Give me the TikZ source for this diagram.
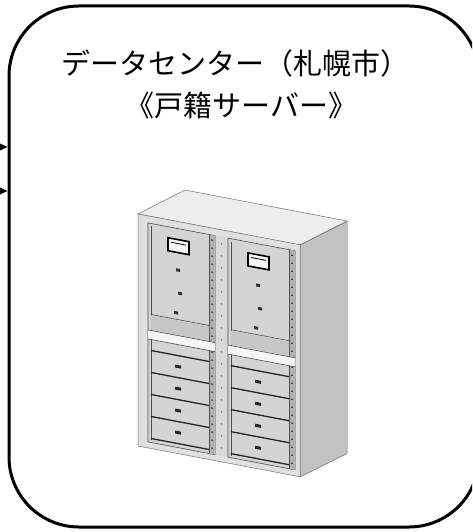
\documentclass[tikz,border=0pt]{standalone}
\usepackage{fontspec}
\newfontfamily\jpfont{Noto Sans CJK JP}
\usetikzlibrary{arrows.meta}
\begin{document}
\begin{tikzpicture}[x=1pt,y=-1pt,
  frame/.style={draw=black, line width=3pt, rounded corners=70pt,
    minimum width=470pt, minimum height=521pt, inner sep=0pt},
  title/.style={font=\jpfont\fontsize{29}{34}\selectfont, inner sep=0pt, anchor=base},
  feed/.style={line width=1.5pt, -{Triangle[length=9pt,width=8pt]}},
  edge/.style={draw=black!55, line width=0.5pt},
  rackline/.style={draw=black!70, line width=0.6pt},
  drawer/.style={draw=black!85, line width=1.3pt},
]
\useasboundingbox (0,0) rectangle (472,532);
\clip (0,0) rectangle (472,532);
\fill[white] (0,0) rectangle (472,532);

% data centre frame and its title
\node[frame] (dc) at (244,266.5) {};
\node[title] (name) at (235.5,74.5) {データセンター（札幌市）};
\node[title] (role) at (241.5,117) {《戸籍サーバー》};

% incoming links
\coordinate (src1) at (-30,147);
\coordinate (src2) at (-30,191);
\draw[feed] (src1) -- (src1 -| dc.west);
\draw[feed] (src2) -- (src2 -| dc.west);

% server cabinet: top face
\fill[gray!14] (138,214) -- (300,245) -- (347,221) -- (185,190) -- cycle;
\draw[edge] (138,214) -- (300,245) -- (347,221) -- (185,190) -- cycle;

% server cabinet: right side face
\begin{scope}[shift={(300,245)}, yslant=0.5]
  \fill[gray!48] (0,0) rectangle (47,232);
  \draw[edge] (0,0) rectangle (47,232);
\end{scope}

% server cabinet: front face with two racks
\begin{scope}[shift={(138,214)}, yslant=-0.19]
  \fill[gray!24] (0,0) rectangle (162,232);
  \draw[edge] (0,0) rectangle (162,232);
  % centre divider
  \fill[gray!30] (77,7) rectangle (90,226);
  \foreach \v in {14,26,...,218} \fill[black!60] (83.5,\v) circle (0.8pt);
  \foreach \c in {10,90} {
    \fill[gray!34] (\c,7) rectangle ({\c+67},226);
    \draw[rackline] (\c,7) rectangle ({\c+67},226);
    % mounting rail
    \fill[gray!62] ({\c+61},7) rectangle ({\c+67},226);
    \draw[rackline] ({\c+61},7) -- ({\c+61},226);
    \foreach \v in {12,20,...,220} \fill[black!85] ({\c+64},\v) circle (0.9pt);
    \draw[rackline] ({\c+3},10) -- ({\c+3},224);
    % upper unit
    \draw[black, line width=1.6pt, fill=gray!8] ({\c+20},18) rectangle ({\c+41},31);
    \draw[black, line width=0.8pt] ({\c+23},22) -- ({\c+38},22);
    \fill[black!80] ({\c+28},47) rectangle ({\c+32},50);
    \fill[black!80] ({\c+30},70) rectangle ({\c+34},73);
    \fill[black!80] ({\c+26},90) rectangle ({\c+30},93);
    \draw[rackline] ({\c+3},98) -- ({\c+61},98);
    \fill[gray!44] ({\c+3},99) rectangle ({\c+61},113);
    % shelf
    \fill[gray!8] (\c,114) rectangle ({\c+67},123);
    \draw[rackline] (\c,114) -- ({\c+67},114);
    \draw[rackline] (\c,123) -- ({\c+67},123);
    % drawers
    \foreach \v in {134,156,178,200,222}
      \draw[drawer] ({\c+3},\v) -- ({\c+61},\v);
    \foreach \v in {145,167,189,211}
      \fill[black!85] ({\c+27},{\v-1.5}) rectangle ({\c+33},{\v+1.5});
  }
\end{scope}
\end{tikzpicture}
\end{document}
